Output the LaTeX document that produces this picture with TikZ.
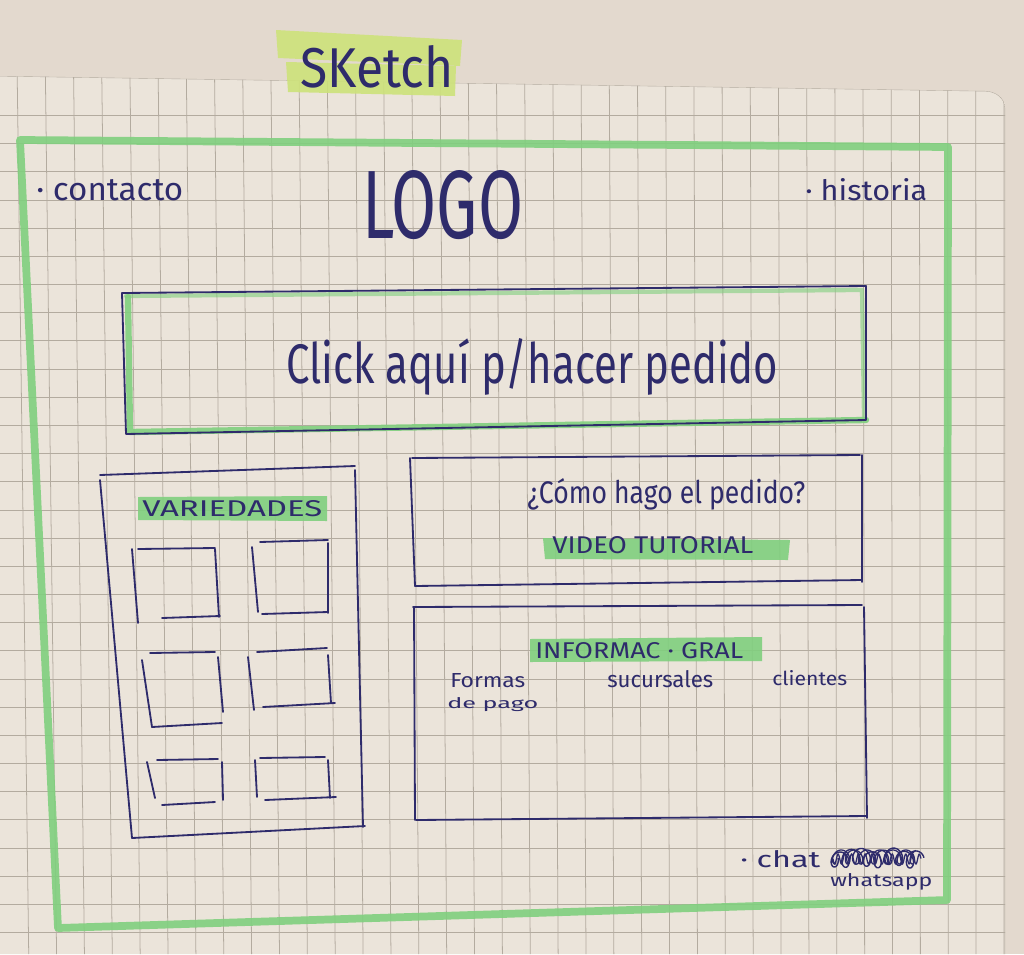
\documentclass[tikz,border=0pt]{standalone}
\usepackage{fontspec}
\setmainfont{Fira Sans}
\usepackage{graphicx}
\newlength\pxu
\setlength\pxu{0.025cm}
% text set to an exact width and height (in px units)
\newcommand\handtext[3]{\resizebox{#1\pxu}{#2\pxu}{#3}}
\definecolor{inkc}{HTML}{2E2B6B}
\definecolor{paperbg}{HTML}{E3D9CE}
\definecolor{sheetc}{HTML}{EBE4DA}
\definecolor{gridc}{HTML}{B3AB9F}
\definecolor{markc}{HTML}{80CF7E}
\definecolor{limec}{HTML}{CDE27A}
\tikzset{
  ink/.style={draw=inkc, line width=1.3pt, line cap=round, line join=round},
  marker/.style={draw=markc, line width=5.5pt, line cap=round, line join=round, opacity=0.9},
  gridln/.style={draw=gridc, line width=0.55pt},
  lbl/.style={inner sep=0pt, text=inkc, anchor=base west},
}
\begin{document}
\begin{tikzpicture}[x=0.025cm, y=-0.025cm]
\useasboundingbox (0,0) rectangle (1024,954);
% paper
\fill[paperbg] (0,0) rectangle (1024,954);
\fill[sheetc] (0,76) -- (985,91) to[out=0,in=90] (1005,108) -- (1005,954) -- (0,954) -- cycle;
\begin{scope}
  \clip (0,76) -- (985,91) to[out=0,in=90] (1005,108) -- (1005,954) -- (0,954) -- cycle;
  \foreach \i in {0,...,36} {
    \draw[gridln] ({17+28.2*\i},60) -- ({17+28.2*\i+12-0.012*(17+28.2*\i)},960);
  }
  \foreach \k in {0,...,30} {
    \draw[gridln] (0,{115.5+28.17*\k}) -- (1010,{115.5+28.17*\k});
  }
  \draw[gridln] (0,76) -- (985,91) to[out=0,in=90] (1005,108) -- (1005,954);
\end{scope}

% title with lime marker
\fill[limec, opacity=0.9] (276,30) -- (462,40) -- (460,66) -- (278,58) -- cycle;
\fill[limec, opacity=0.9] (286,62) -- (456,66) -- (455,96) -- (288,92) -- cycle;
\node[lbl] (title) at (300,87) {\handtext{153}{42}{SKetch}};

% outer page frame
\draw[marker] (20,140) -- (948,147) -- (947,900) -- (58,928) -- cycle;

% header
\node[lbl] (contacto) at (36,200) {\handtext{147}{21}{· contacto}};
\node[lbl] (logo) at (362,238) {\handtext{161}{68}{LOGO}};
\node[lbl] (historia) at (805,200) {\handtext{122}{22}{· historia}};

% order button
\draw[marker, line width=4.5pt] (128,297) -- (130,432) -- (866,420);
\draw[marker, line width=3pt, opacity=0.6] (126,296) -- (862,290) -- (864,418);
\draw[ink] (122,293) -- (866,286) -- (866,420) -- (126,434) -- cycle;
\node[lbl] (pedido) at (286,383) {\handtext{492}{45}{Click aquí p/hacer pedido}};

% varieties panel
\draw[ink] (100,475) -- (355,466);
\draw[ink] (100,480) -- (132,838);
\draw[ink] (355,470) -- (363,827);
\draw[ink] (132,838) -- (365,826);
\fill[markc, opacity=0.9] (138,497) -- (327,496) -- (327,521) -- (138,520) -- cycle;
\node[lbl] (variedades) at (142,516) {\handtext{180}{16}{VARIEDADES}};
% product thumbnails
\draw[ink] (132,549) -- (138,623);
\draw[ink] (138,549) -- (215,548);
\draw[ink] (215,549) -- (219,617);
\draw[ink] (162,618) -- (220,616);
\draw[ink] (252,547) -- (258,612);
\draw[ink] (260,542) -- (328,540);
\draw[ink] (328,543) -- (328,613);
\draw[ink] (262,614) -- (328,612);
\draw[ink] (150,653) -- (215,652);
\draw[ink] (142,660) -- (152,727);
\draw[ink] (218,657) -- (223,712);
\draw[ink] (152,727) -- (222,723);
\draw[ink] (257,652) -- (327,648);
\draw[ink] (248,657) -- (254,710);
\draw[ink] (328,655) -- (331,703);
\draw[ink] (263,707) -- (335,703);
\draw[ink] (157,760) -- (218,759);
\draw[ink] (147,762) -- (155,798);
\draw[ink] (222,762) -- (223,800);
\draw[ink] (162,805) -- (215,802);
\draw[ink] (260,758) -- (325,757);
\draw[ink] (255,760) -- (257,797);
\draw[ink] (328,760) -- (330,798);
\draw[ink] (265,800) -- (336,797);

% tutorial panel
\draw[ink] (412,458) -- (860,455);
\draw[ink] (410,458) -- (415,586);
\draw[ink] (415,586) -- (862,580);
\draw[ink] (862,455) -- (862,582);
\node[lbl] (como) at (527,503) {\handtext{278}{25}{¿Cómo hago el pedido?}};
\fill[markc, opacity=0.9] (543,538) -- (790,540) -- (788,560) -- (545,559) -- cycle;
\node[lbl] (video) at (552,553) {\handtext{201}{17}{VIDEO TUTORIAL}};

% general information panel
\draw[ink] (413,607) -- (862,605);
\draw[ink] (414,607) -- (415,820);
\draw[ink] (864,607) -- (867,818);
\draw[ink] (416,820) -- (866,816);
\fill[markc, opacity=0.9] (530,639) -- (762,637) -- (762,661) -- (530,662) -- cycle;
\node[lbl] (info) at (535,658) {\handtext{208}{16}{INFORMAC · GRAL}};
\node[lbl] (formas) at (450,687) {\handtext{75}{14}{Formas}};
\node[lbl] (depago) at (447,708) {\handtext{91}{11}{de pago}};
\node[lbl] (sucursales) at (607,687) {\handtext{106}{17}{sucursales}};
\node[lbl] (clientes) at (772,685) {\handtext{75}{15}{clientes}};

% chat link, with a crossed-out word
\node[lbl] (chat) at (740,867) {\handtext{80}{17}{· chat}};
\draw[draw=inkc, line width=1pt] plot[domain=0:1, samples=300, smooth]
  ({832+86*\x+6*cos(360*8*\x)}, {858+8*sin(360*8*\x)+2*sin(900*\x)});
\draw[draw=inkc, line width=0.9pt] plot[domain=0:1, samples=300, smooth]
  ({834+84*\x+5*cos(360*6.5*\x+70)}, {857+7*sin(360*6.5*\x+70)});
\draw[draw=inkc, line width=0.9pt] plot[domain=0:1, samples=200, smooth]
  ({833+88*\x}, {859+5*sin(360*13*\x)});
\node[lbl] (whatsapp) at (830,886) {\handtext{102}{13}{whatsapp}};
\end{tikzpicture}
\end{document}
